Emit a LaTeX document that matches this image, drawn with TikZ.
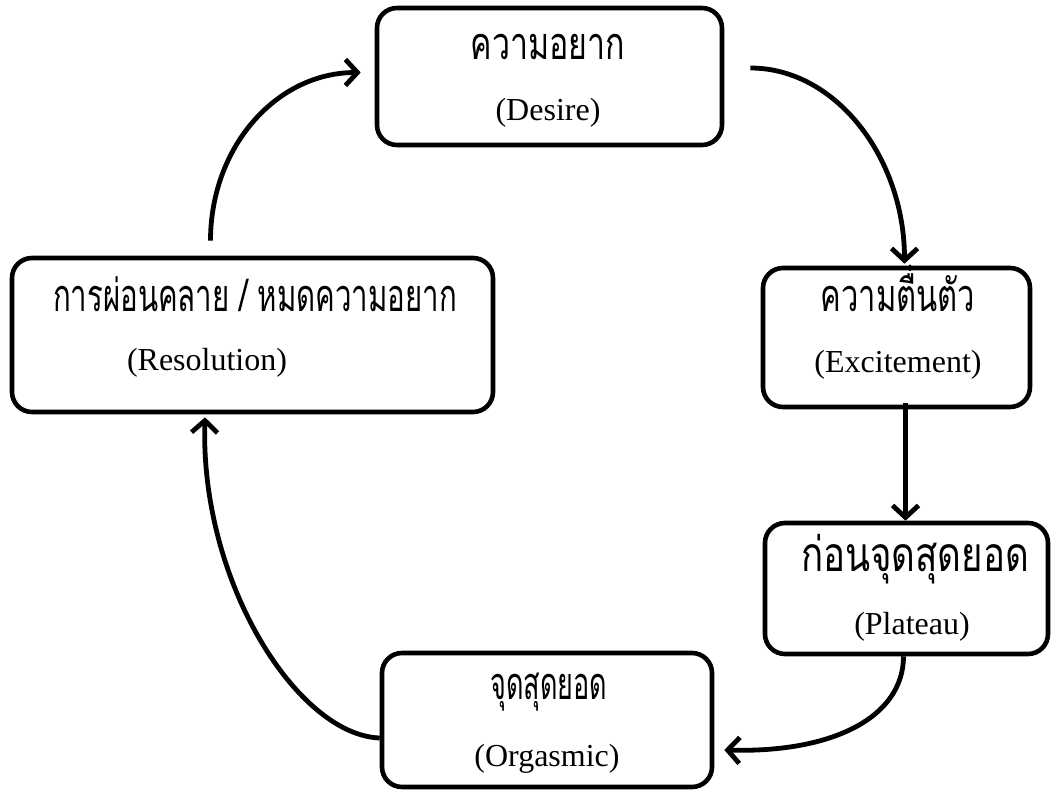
\documentclass[tikz,border=0pt]{standalone}
\usepackage{graphicx}
\usepackage{fontspec}
\setmainfont{Liberation Serif}
\newfontfamily\thaifont[Script=Thai]{Loma}
\newcommand{\thaitxt}[3]{\scalebox{#1}[#2]{#3}}
\usetikzlibrary{arrows.meta,calc}
\begin{document}
\begin{tikzpicture}[x=1pt,y=1pt,
  box/.style={draw, line width=4.6pt, rounded corners=20pt, inner sep=0pt},
  th/.style={font=\thaifont\fontsize{30}{36}\selectfont, anchor=base, inner sep=0pt},
  en/.style={font=\fontsize{32}{38}\selectfont, anchor=base, inner sep=0pt},
  conn/.style={line width=4.8pt, -{Straight Barb[length=12pt,width=26pt]}}
]
\fill[white] (0,0) rectangle (1052,-791);
\useasboundingbox (0,0) rectangle (1052,-791);

\node[box, minimum width=345pt, minimum height=137pt] (des) at (549.5,-76.5) {};
\node[box, minimum width=267pt, minimum height=139pt] (exc) at (896.5,-337.5) {};
\node[box, minimum width=283pt, minimum height=131pt] (pla) at (906.5,-588.5) {};
\node[box, minimum width=330pt, minimum height=134pt] (org) at (547,-720) {};
\node[box, minimum width=481pt, minimum height=154pt] (res) at (252.5,-335) {};

\node[th] (desT) at (548,-60) {\thaitxt{1.07}{1.5}{ความอยาก}};
\node[en] (desE) at (548,-121) {(Desire)};
\node[th] (excT) at (898,-312) {\thaitxt{1.03}{1.5}{ความตื่นตัว}};
\node[en] (excE) at (898,-373) {(Excitement)};
\node[th] (plaT) at (915,-571) {\thaitxt{1.22}{1.6}{ก่อนจุดสุดยอด}};
\node[en] (plaE) at (912,-634) {(Plateau)};
\node[th] (orgT) at (549,-699) {\thaitxt{0.9}{1.5}{จุดสุดยอด}};
\node[en] (orgE) at (547,-766) {(Orgasmic)};
\node[th] (resT) at (255,-312) {\thaitxt{0.98}{1.5}{การผ่อนคลาย / หมดความอยาก}};
\node[en] (resE) at (207,-371) {(Resolution)};

\draw[conn] ($(des.east)+(26,8.5)$) .. controls +(86,0) and +(0,105) .. ($(exc.north)+(8,2)$);
\draw[conn] ($(exc.south -| pla.north)+(-1,6)$) -- ($(pla.north)+(-1,0)$);
\draw[conn] ($(pla.south)+(-3,0)$) .. controls +(0,-60) and +(110,-3) .. ($(org.east)+(10,-30)$);
\draw[conn] ($(org.west)+(0,-18)$) .. controls +(-82,3) and +(-5,-165) .. ($(res.south)+(-47.5,-3)$);
\draw[conn] ($(res.north)+(-42,15)$) .. controls +(0,94) and +(-84,0) .. ($(des.west)+(-14,4)$);
\end{tikzpicture}
\end{document}
